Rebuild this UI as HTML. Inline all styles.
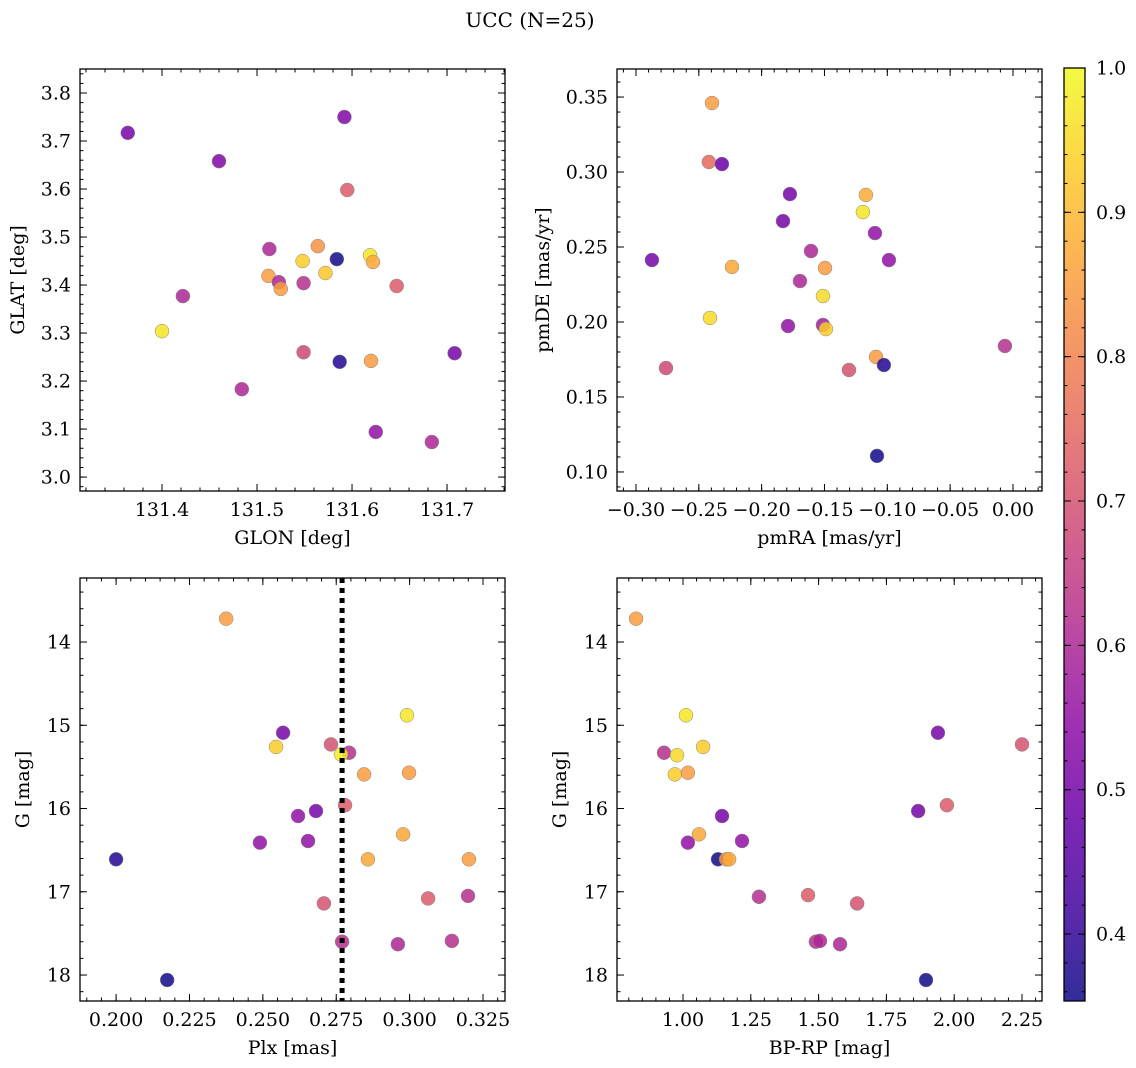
<!DOCTYPE html>
<html><head><meta charset="utf-8"><style>
body{margin:0;background:#fff}
svg{display:block;font-family:"DejaVu Serif","Liberation Serif",serif}
</style></head><body>
<svg id="fig" width="1136" height="1068" xmlns="http://www.w3.org/2000/svg">
<text x="530" y="27" font-size="20" text-anchor="middle">UCC (N=25)</text>
</svg>
<script>
// Panel 1: GLON vs GLAT
const p1x=[131.364,131.460,131.592,131.595,131.400,131.422,131.484,131.513,131.512,131.523,131.525,131.548,131.549,131.549,131.564,131.572,131.584,131.587,131.619,131.622,131.620,131.647,131.625,131.684,131.708];
const p1y=[3.717,3.658,3.750,3.598,3.304,3.377,3.183,3.475,3.419,3.406,3.392,3.450,3.404,3.260,3.481,3.425,3.454,3.240,3.462,3.448,3.242,3.398,3.094,3.073,3.258];
const p1c=[0.50,0.52,0.52,0.72,0.97,0.60,0.60,0.60,0.85,0.60,0.85,0.93,0.62,0.68,0.83,0.92,0.36,0.38,0.97,0.87,0.85,0.72,0.55,0.60,0.50];
// Panel 2: pmRA vs pmDE
const p2x=[-0.2395,-0.242,-0.2316,-0.2873,-0.2761,-0.2411,-0.2236,-0.183,-0.1775,-0.1695,-0.179,-0.1607,-0.1512,-0.1496,-0.1512,-0.1488,-0.117,-0.1194,-0.1098,-0.0987,-0.1305,-0.109,-0.1027,-0.1082,-0.0064];
const p2y=[0.346,0.3067,0.3053,0.2413,0.1693,0.2027,0.2367,0.2673,0.2853,0.2273,0.1973,0.2473,0.2173,0.236,0.198,0.1953,0.2847,0.2733,0.2593,0.2413,0.168,0.1767,0.1713,0.1107,0.184];
const p2c=[0.85,0.75,0.48,0.50,0.68,0.95,0.87,0.50,0.50,0.60,0.55,0.60,0.95,0.85,0.58,0.93,0.88,0.97,0.55,0.55,0.70,0.85,0.38,0.36,0.62];
// Panel 3: Plx vs G
const p3x=[0.2375,0.2569,0.2545,0.2732,0.2794,0.2766,0.2991,0.2845,0.2998,0.278,0.262,0.2681,0.2654,0.249,0.2978,0.2858,0.3202,0.2,0.2708,0.3063,0.3199,0.277,0.296,0.3144,0.2174];
const p3y=[13.72,15.09,15.26,15.23,15.33,15.35,14.88,15.59,15.57,15.96,16.09,16.03,16.39,16.41,16.31,16.61,16.61,16.61,17.14,17.08,17.05,17.6,17.63,17.59,18.06];
const p3c=[0.85,0.50,0.93,0.70,0.62,0.98,0.97,0.85,0.85,0.72,0.55,0.50,0.55,0.55,0.87,0.87,0.85,0.38,0.70,0.72,0.62,0.62,0.60,0.62,0.36];
const plxLine=0.277;
// Panel 4: BP-RP vs G
const p4x=[0.827,1.011,0.93,0.978,1.074,0.97,1.018,1.144,1.059,1.018,1.129,1.159,1.17,1.2175,1.28,1.461,1.642,1.49,1.505,1.579,1.867,1.94,1.973,2.25,1.896];
const p4y=[13.72,14.88,15.33,15.36,15.26,15.59,15.57,16.09,16.31,16.41,16.61,16.61,16.61,16.39,17.06,17.04,17.14,17.6,17.59,17.63,16.03,15.09,15.96,15.23,18.06];
const p4c=[0.85,0.97,0.62,0.95,0.93,0.93,0.85,0.50,0.87,0.55,0.36,0.85,0.87,0.55,0.62,0.72,0.70,0.62,0.60,0.60,0.50,0.50,0.72,0.70,0.36];
// tick labels
const t1x=["131.4","131.5","131.6","131.7"], t1y=["3.0","3.1","3.2","3.3","3.4","3.5","3.6","3.7","3.8"];
const t2x=["−0.30","−0.25","−0.20","−0.15","−0.10","−0.05","0.00"], t2y=["0.10","0.15","0.20","0.25","0.30","0.35"];
const t3x=["0.200","0.225","0.250","0.275","0.300","0.325"], tGy=["14","15","16","17","18"];
const t4x=["1.00","1.25","1.50","1.75","2.00","2.25"];
const tcb=["0.4","0.5","0.6","0.7","0.8","0.9","1.0"];
const cmin=0.3536,cmax=1.0;

const NS="http://www.w3.org/2000/svg";
const svg=document.getElementById('fig');
const FS=19;
function el(t,a,p){const e=document.createElementNS(NS,t);for(const k in a)e.setAttribute(k,a[k]);(p||svg).appendChild(e);return e;}
const stops=["#0d0887","#41049d","#6a00a8","#8f0da4","#b12a90","#cc4778","#e16462","#f2844b","#fca636","#fcce25","#f0f921"];
function hex(h){return [1,3,5].map(i=>parseInt(h.substr(i,2),16));}
function plasma(t){t=Math.max(0,Math.min(1,t));const f=t*10,i=Math.min(9,Math.floor(f)),u=f-i;const a=hex(stops[i]),b=hex(stops[i+1]);
 return 'rgb('+a.map((v,k)=>Math.round(v+(b[k]-v)*u)).join(',')+')';}
function cnorm(v){return (v-cmin)/(cmax-cmin);}

function panel(o){
 const g=el('g',{});
 
 
 const X=v=>o.L+(v-o.x0)/(o.x1-o.x0)*(o.R-o.L);
 const Y=o.inv?v=>o.T+(v-o.y0)/(o.y1-o.y0)*(o.B-o.T):v=>o.B-(v-o.y0)/(o.y1-o.y0)*(o.B-o.T);
 for(let i=0;i<o.xs.length;i++){
  const c=el('circle',{cx:X(o.xs[i]),cy:Y(o.ys[i]),r:7,fill:plasma(cnorm(o.cs[i])),'fill-opacity':0.85,stroke:'#888','stroke-width':0.5},g);
  
  
 }
 if(o.vline!==undefined){const l=el('line',{x1:X(o.vline),x2:X(o.vline),y1:o.T,y2:o.B,stroke:'#000','stroke-width':5,'stroke-dasharray':'5,5'},g);
  
  }
 const fr=el('rect',{x:o.L,y:o.T,width:o.R-o.L,height:o.B-o.T,fill:'none',stroke:'#000','stroke-width':1.3},g);
 
 
 const xs=o.xt.map(s=>parseFloat(s.replace('−','-'))), dx=xs[1]-xs[0];
 for(let v=xs[0]-dx;v<=o.x1+dx;v+=dx/5){const px=X(v);if(px<o.L-0.5||px>o.R+0.5)continue;
  el('line',{x1:px,x2:px,y1:o.B,y2:o.B-3.5,stroke:'#000'},g);el('line',{x1:px,x2:px,y1:o.T,y2:o.T+3.5,stroke:'#000'},g);}
 o.xt.forEach((s,i)=>{const px=X(xs[i]);el('line',{x1:px,x2:px,y1:o.B,y2:o.B-7,stroke:'#000'},g);el('line',{x1:px,x2:px,y1:o.T,y2:o.T+7,stroke:'#000'},g);
  const t=el('text',{x:px,y:o.B+25,'font-size':FS,'text-anchor':'middle'},g);t.textContent=s;
  
  });
 const ys=o.yt.map(s=>parseFloat(s)), dy=ys[1]-ys[0];
 for(let v=ys[0]-dy;v<=Math.max(o.y1,o.y0)+dy;v+=dy/5){const py=Y(v);if(py<o.T-0.5||py>o.B+0.5)continue;
  el('line',{x1:o.L,x2:o.L+3.5,y1:py,y2:py,stroke:'#000'},g);el('line',{x1:o.R,x2:o.R-3.5,y1:py,y2:py,stroke:'#000'},g);}
 o.yt.forEach((s,i)=>{const py=Y(ys[i]);el('line',{x1:o.L,x2:o.L+7,y1:py,y2:py,stroke:'#000'},g);el('line',{x1:o.R,x2:o.R-7,y1:py,y2:py,stroke:'#000'},g);
  const t=el('text',{x:o.L-9,y:py+6.5,'font-size':FS,'text-anchor':'end'},g);t.textContent=s;
  
  });
 const xl=el('text',{x:(o.L+o.R)/2,y:o.B+53,'font-size':FS,'text-anchor':'middle'},g);xl.textContent=o.xlab;
 
 
 const yx=o.ylx,yy=(o.T+o.B)/2;
 const yl=el('text',{x:yx,y:yy,'font-size':FS,'text-anchor':'middle',transform:`rotate(-90 ${yx} ${yy})`},g);yl.textContent=o.ylab;
 
 
}
panel({name:'glon-glat-panel',L:80,R:505,T:69,B:491,x0:131.3137,x1:131.761,y0:2.971,y1:3.85,xs:p1x,ys:p1y,cs:p1c,xt:t1x,yt:t1y,xlab:'GLON [deg]',ylab:'GLAT [deg]',ylx:24});
panel({name:'pm-panel',L:617,R:1042,T:69,B:491,x0:-0.3151,x1:0.0231,y0:0.0873,y1:0.3687,xs:p2x,ys:p2y,cs:p2c,xt:t2x,yt:t2y,xlab:'pmRA [mas/yr]',ylab:'pmDE [mas/yr]',ylx:549});
panel({name:'plx-g-panel',L:80,R:505,T:578,B:1001,x0:0.1877,x1:0.3325,y0:13.231,y1:18.312,inv:true,xs:p3x,ys:p3y,cs:p3c,xt:t3x,yt:tGy,xlab:'Plx [mas]',ylab:'G [mag]',ylx:29,vline:plxLine});
panel({name:'cmd-panel',L:617,R:1042,T:578,B:1001,x0:0.7566,x1:2.3237,y0:13.231,y1:18.312,inv:true,xs:p4x,ys:p4y,cs:p4c,xt:t4x,yt:tGy,xlab:'BP-RP [mag]',ylab:'G [mag]',ylx:566});

const cb=el('g',{});


const CL=1064,CR=1085,CT=68,CB=1001;
const defs=el('defs',{},cb);const lg=el('linearGradient',{id:'cg',x1:0,y1:1,x2:0,y2:0},defs);
for(let i=0;i<=20;i++){const t=i/20;el('stop',{offset:t,'stop-color':plasma(t),'stop-opacity':0.85},lg);}
el('rect',{x:CL,y:CT,width:CR-CL,height:CB-CT,fill:'url(#cg)',stroke:'#000','stroke-width':1.3},cb);
const CY=v=>CB-(v-cmin)/(cmax-cmin)*(CB-CT);
for(let v=0.36;v<=1.0001;v+=0.02){const py=CY(v);el('line',{x1:CR,x2:CR-3.5,y1:py,y2:py,stroke:'#000'},cb);el('line',{x1:CL,x2:CL+3.5,y1:py,y2:py,stroke:'#000'},cb);}
tcb.forEach(s=>{const py=CY(parseFloat(s));el('line',{x1:CR,x2:CR-7,y1:py,y2:py,stroke:'#000'},cb);el('line',{x1:CL,x2:CL+7,y1:py,y2:py,stroke:'#000'},cb);
 const t=el('text',{x:CR+11,y:py+6.5,'font-size':FS},cb);t.textContent=s;
 
 });
</script>
</body></html>
